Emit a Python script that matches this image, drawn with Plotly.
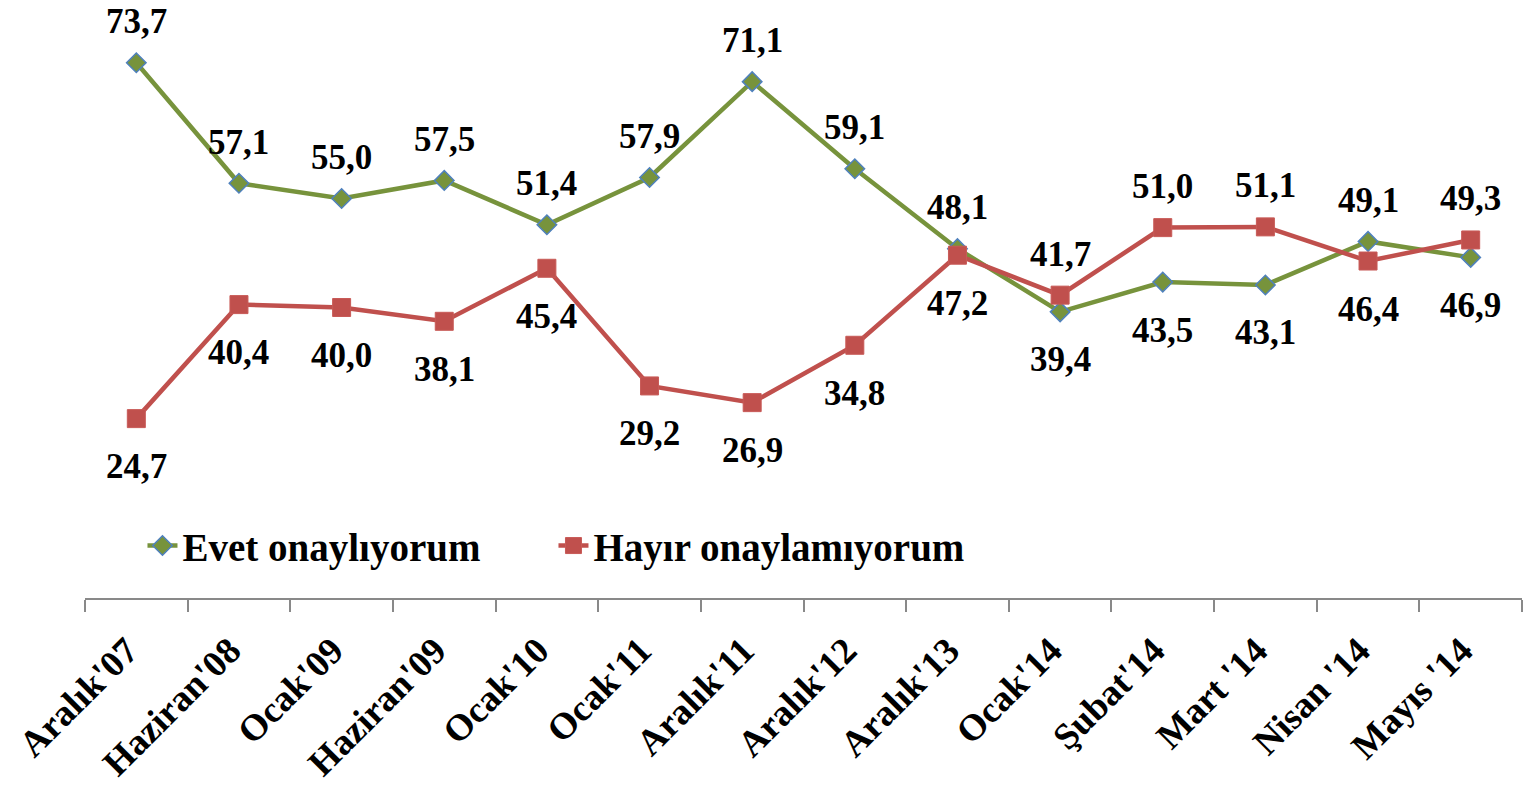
import plotly.graph_objects as go

categories = ["Aralık'07", "Haziran'08", "Ocak'09", "Haziran'09", "Ocak'10", "Ocak'11",
              "Aralık'11", "Aralık'12", "Aralık'13", "Ocak'14", "Şubat'14", "Mart '14",
              "Nisan '14", "Mayıs '14"]
evet = [73.7, 57.1, 55.0, 57.5, 51.4, 57.9, 71.1, 59.1, 48.1, 39.4, 43.5, 43.1, 49.1, 46.9]
hayir = [24.7, 40.4, 40.0, 38.1, 45.4, 29.2, 26.9, 34.8, 47.2, 41.7, 51.0, 51.1, 46.4, 49.3]

GREEN = "#77933C"
RED = "#C0504D"
BLUE = "#4F81BD"
FONT = "Liberation Serif"

fig = go.Figure()
fig.add_trace(go.Scatter(
    x=categories, y=evet, mode="lines+markers", name="Evet onaylıyorum",
    line=dict(color=GREEN, width=4.5),
    marker=dict(symbol="diamond", size=15, color=GREEN, line=dict(color=BLUE, width=1.5)),
))
fig.add_trace(go.Scatter(
    x=categories, y=hayir, mode="lines+markers", name="Hayır onaylamıyorum",
    line=dict(color=RED, width=4.5),
    marker=dict(symbol="square", size=18, color=RED, line=dict(color="#C85A57", width=1)),
))

def fmt(v):
    return f"{v:.1f}".replace(".", ",")

annotations = []
for c, e, h in zip(categories, evet, hayir):
    e_up = e >= h
    for v, up in ((e, e_up), (h, not e_up)):
        annotations.append(dict(
            x=c, y=v, xref="x", yref="y", text=fmt(v), showarrow=False,
            yanchor="middle", xanchor="center", yshift=41 if up else -48,
            font=dict(family=FONT, size=35, color="black", weight="bold"),
        ))

fig.update_layout(
    width=1525, height=786,
    margin=dict(l=85, r=3, t=17, b=188, autoexpand=False),
    paper_bgcolor="white", plot_bgcolor="white",
    showlegend=True,
    legend=dict(
        orientation="h", x=0.04, y=0.09, xanchor="left", yanchor="middle",
        font=dict(family=FONT, size=39, color="black", weight="bold"),
        bgcolor="rgba(0,0,0,0)", entrywidth=366, entrywidthmode="pixels",
    ),
    annotations=annotations,
    xaxis=dict(
        type="category", tickson="boundaries", ticks="outside", ticklen=12,
        tickcolor="#898989", tickwidth=2, showline=True, linecolor="#898989", linewidth=2,
        showgrid=False, zeroline=False, tickangle=-45, automargin=False,
        ticklabelstandoff=14, ticklabelshift=-9,
        tickfont=dict(family=FONT, size=37, color="black", weight="bold"),
        range=[-0.5, len(categories) - 0.5],
    ),
    yaxis=dict(range=[0, 80], visible=False, showgrid=False, zeroline=False, automargin=False),
)

fig.write_html(
    "out.html",
    config={"displayModeBar": False},
    post_script="document.body.style.margin='0';document.body.style.overflow='hidden';",
)
